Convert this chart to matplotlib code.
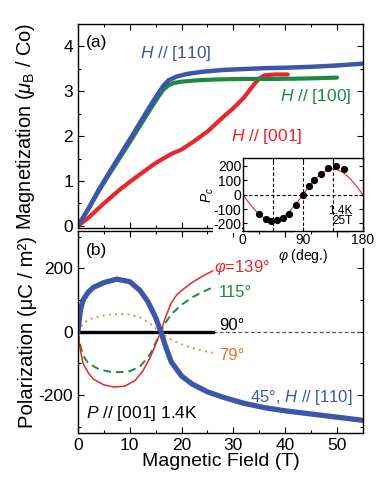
import matplotlib
matplotlib.use("Agg")
import matplotlib.pyplot as plt
from matplotlib.ticker import MultipleLocator

plt.rcParams["font.family"] = ["Liberation Sans", "DejaVu Sans"]
plt.rcParams["mathtext.fontset"] = "custom"
plt.rcParams["mathtext.rm"] = "Liberation Sans"
plt.rcParams["mathtext.it"] = "Liberation Sans:italic"
plt.rcParams["mathtext.fallback"] = "stixsans"
plt.rcParams["axes.unicode_minus"] = False

BLUE = "#3d56a8"
GREEN = "#1f8a3f"
RED = "#e8262d"
ORANGE = "#ef8a3e"

# --- (a) magnetization curves ---
field_110 = [0, 2, 4, 6, 8, 10, 12, 14, 15.5, 16.5, 17.5, 19, 21, 24, 28, 32, 36, 40, 45, 50, 55]
mag_110 = [0, 0.38, 0.8, 1.18, 1.55, 1.92, 2.3, 2.68, 2.95, 3.12, 3.24, 3.32, 3.38, 3.43, 3.47,
           3.49, 3.51, 3.52, 3.54, 3.57, 3.61]
field_100 = [0, 2, 4, 6, 8, 10, 12, 14, 15.5, 16.5, 17.5, 18.5, 20, 23, 27, 32, 38, 44, 50]
mag_100 = [0, 0.37, 0.77, 1.14, 1.5, 1.86, 2.23, 2.6, 2.87, 3.03, 3.13, 3.18, 3.21, 3.24, 3.26,
           3.27, 3.27, 3.28, 3.3]
field_001 = [0, 2, 5, 8, 10, 12, 15, 18, 20, 22, 25, 28, 30, 32, 34, 35, 36, 38, 40.5]
mag_001 = [0, 0.18, 0.5, 0.8, 0.98, 1.15, 1.4, 1.6, 1.7, 1.85, 2.1, 2.42, 2.62, 2.85, 3.15,
           3.28, 3.35, 3.37, 3.37]

# --- inset: Pc vs phi at 1.4 K, 25 T ---
phi_pts = [24, 34, 42, 51, 60, 69, 79, 90, 99, 107, 117, 128, 139, 151]
pc_pts = [-133, -171, -183, -178, -160, -131, -69, 0, 60, 102, 145, 183, 198, 179]
phi_fit = [0, 10, 20, 30, 40, 45, 50, 60, 70, 80, 90, 100, 110, 120, 130, 135, 140, 150, 160, 170, 180]
pc_fit = [0, -62, -116, -156, -177, -180, -177, -156, -116, -62, 0, 62, 116, 156, 177, 180,
          177, 156, 116, 62, 0]

# --- (b) polarization curves ---
field_45 = [0, 0.5, 1, 2, 3, 5, 7.5, 10, 12, 13.5, 15, 16, 17, 18, 20, 22, 25, 28, 32, 36, 40,
            45, 50, 55]
pol_45 = [0, 70, 100, 125, 140, 155, 166, 158, 130, 95, 45, 0, -50, -95, -140, -165, -190,
          -207, -226, -240, -250, -260, -270, -280]
field_139 = [0, 0.5, 1, 2, 3, 5, 7, 9, 11, 12.5, 14, 15, 16, 17, 18, 19, 20, 22, 24, 26]
pol_139 = [0, -60, -100, -130, -150, -168, -175, -172, -155, -125, -80, -40, 0, 50, 90, 115,
           130, 155, 175, 192]
field_115 = [0, 0.5, 1, 2, 4, 6, 8, 10, 12, 14, 15, 16, 17, 18, 20, 22, 24, 26]
pol_115 = [0, -45, -75, -100, -118, -126, -128, -125, -110, -70, -35, 0, 30, 55, 85, 108, 125, 140]
field_79 = [0, 1, 2, 4, 6, 8, 10, 12, 14, 15, 16, 17, 18, 20, 22, 24, 26]
pol_79 = [0, 25, 38, 48, 54, 56, 54, 45, 25, 10, 0, -15, -25, -40, -52, -60, -67]
field_90 = [0, 26]
pol_90 = [0, 0]
field_90_ext = [26, 55]
pol_90_ext = [0, 0]


def style_axis(ax):
    ax.tick_params(which="both", direction="in", top=True, right=True, width=0.8)
    ax.tick_params(which="major", length=4)
    ax.tick_params(which="minor", length=2.2)
    for sp in ax.spines.values():
        sp.set_linewidth(1.0)


fig = plt.figure(figsize=(3.8, 4.82), dpi=100)
ax_m = fig.add_axes([0.205, 0.527, 0.75, 0.423])
ax_p = fig.add_axes([0.205, 0.1017, 0.75, 0.419])

# (a)
ax_m.plot(field_001, mag_001, color=RED, lw=3.0, solid_capstyle="round")
ax_m.plot(field_100, mag_100, color=GREEN, lw=3.0, solid_capstyle="round")
ax_m.plot(field_110, mag_110, color=BLUE, lw=3.2, solid_capstyle="round")
ax_m.set_xlim(0, 55)
ax_m.set_ylim(-0.045, 4.49)
ax_m.xaxis.set_major_locator(MultipleLocator(10))
ax_m.xaxis.set_minor_locator(MultipleLocator(5))
ax_m.yaxis.set_major_locator(MultipleLocator(1))
ax_m.yaxis.set_minor_locator(MultipleLocator(0.5))
ax_m.set_xticklabels([])
style_axis(ax_m)
ax_m.tick_params(labelsize=12.5)
ax_m.set_ylabel(r"Magnetization ($\mu_{\rm B}$ / Co)", fontsize=14.4)
ax_m.yaxis.set_label_coords(-0.142, 0.5)
ax_m.text(1.6, 4.07, "(a)", fontsize=12.5, va="center")
ax_m.text(18.8, 3.84, r"$H$ // [110]", color=BLUE, fontsize=12.5, ha="center", va="center")
ax_m.text(45.8, 2.87, r"$H$ // [100]", color=GREEN, fontsize=12.5, ha="center", va="center")
ax_m.text(36.4, 1.98, r"$H$ // [001]", color=RED, fontsize=12.5, ha="center", va="center")

# (b)
ax_p.plot(field_90_ext, pol_90_ext, color="#555555", lw=0.9, dashes=(3, 2))
ax_p.plot(field_90, pol_90, color="black", lw=2.4)
ax_p.plot(field_79, pol_79, color=ORANGE, lw=1.4, linestyle=(0, (1, 2.2)))
ax_p.plot(field_115, pol_115, color=GREEN, lw=1.4, dashes=(4, 2.5))
ax_p.plot(field_139, pol_139, color=RED, lw=1.1)
ax_p.plot(field_45, pol_45, color=BLUE, lw=3.8, solid_capstyle="round")
ax_p.set_xlim(0, 55)
ax_p.set_ylim(-320, 318)
ax_p.xaxis.set_major_locator(MultipleLocator(10))
ax_p.xaxis.set_minor_locator(MultipleLocator(5))
ax_p.yaxis.set_major_locator(MultipleLocator(200))
ax_p.yaxis.set_minor_locator(MultipleLocator(100))
style_axis(ax_p)
ax_p.tick_params(labelsize=12.5)
ax_p.set_xlabel("Magnetic Field (T)", fontsize=14, labelpad=0)
ax_p.set_ylabel("Polarization (μC / m²)", fontsize=14.6)
ax_p.yaxis.set_label_coords(-0.142, 0.5)
ax_p.text(1.6, 255, "(b)", fontsize=12.5, va="center")
ax_p.text(26.3, 203, r"$\varphi$=139°", color=RED, fontsize=12, va="center")
ax_p.text(27.2, 124, "115°", color=GREEN, fontsize=12, va="center")
ax_p.text(27.2, 19, "90°", color="black", fontsize=12, va="center")
ax_p.text(27.2, -76, "79°", color="#e8703a", fontsize=12, va="center")
ax_p.text(53, -207, r"45°, $H$ // [110]", color=BLUE, fontsize=12, ha="right", va="center")
ax_p.text(1.6, -257, r"$P$ // [001] 1.4K", color="black", fontsize=12.5, va="center")

# inset
ax_in = fig.add_axes([0.639, 0.52, 0.316, 0.152])
ax_in.set_zorder(5)
for v in (45, 90, 135):
    ax_in.axvline(v, color="black", lw=0.8, dashes=(3, 2))
ax_in.axhline(0, color="black", lw=0.8, dashes=(3, 2))
ax_in.plot(phi_fit, pc_fit, color=RED, lw=0.8)
ax_in.plot(phi_pts, pc_pts, "o", color="black", ms=4.2)
ax_in.set_xlim(0, 180)
ax_in.set_ylim(-255, 255)
ax_in.xaxis.set_major_locator(MultipleLocator(90))
ax_in.xaxis.set_minor_locator(MultipleLocator(45))
ax_in.yaxis.set_major_locator(MultipleLocator(100))
style_axis(ax_in)
ax_in.tick_params(which="major", length=3)
ax_in.tick_params(labelsize=10, pad=1)
for lab in ax_in.get_yticklabels() + ax_in.get_xticklabels():
    lab.set_bbox(dict(facecolor="white", edgecolor="none", pad=0.6))
ax_in.set_xlabel(r"$\varphi$ (deg.)", fontsize=10, labelpad=0)
ax_in.set_ylabel(r"$P_c$", fontsize=10, labelpad=-2)
ax_in.text(165, -110, "1.4K", fontsize=8.5, ha="right", va="center")
ax_in.text(165, -184, "25T", fontsize=8.5, ha="right", va="center")

fig.savefig("out.png", dpi=100)
